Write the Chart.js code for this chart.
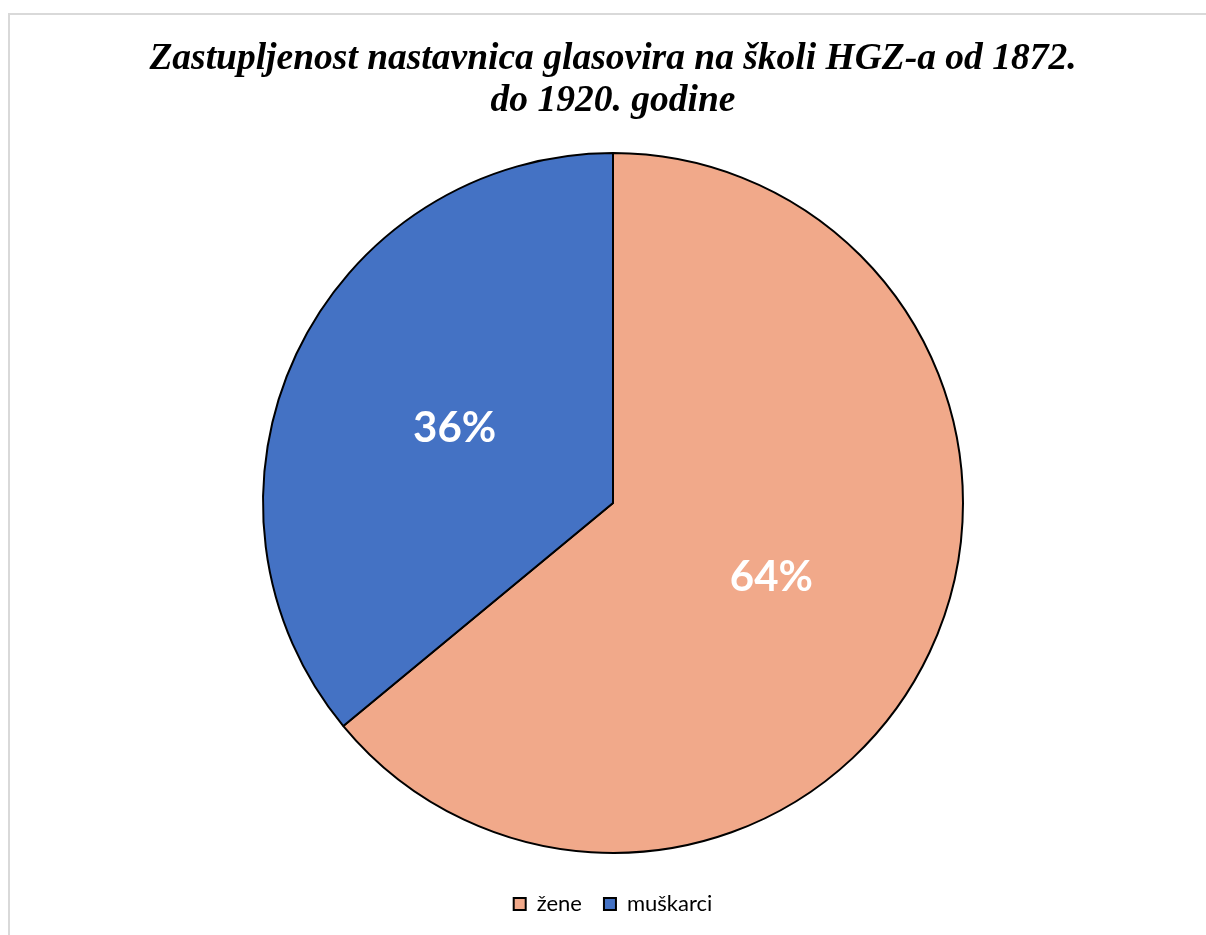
<!DOCTYPE html>
<html>
<head>
<meta charset="utf-8">
<script src="https://cdn.jsdelivr.net/npm/chart.js@4.4.0/dist/chart.umd.min.js"></script>
<style>
  html, body { margin: 0; padding: 0; background: #fff; overflow: hidden; }
  #wrap { position: relative; width: 1206px; height: 935px; }
  #frame {
    position: absolute; left: 8px; top: 13px; width: 1300px; height: 1000px;
    border-left: 2px solid #d9d9d9; border-top: 2px solid #d9d9d9;
    pointer-events: none;
  }
  canvas { position: absolute; left: 0; top: 0; }
</style>
</head>
<body>
<div id="wrap">
  <canvas id="pie" width="1206" height="935"></canvas>
  <div id="frame"></div>
</div>
<script>
// Podaci
const kategorije = ['žene', 'muškarci'];
const vrijednosti = [64, 36];
const boje = ['#f1a98a', '#4472c4'];
const naslov = ['Zastupljenost nastavnica glasovira na školi HGZ-a od 1872.', 'do 1920. godine'];

// Postotci unutar isječaka
const postotakPlugin = {
  id: 'postotak',
  afterDatasetsDraw(chart) {
    const { ctx } = chart;
    const meta = chart.getDatasetMeta(0);
    const data = chart.data.datasets[0].data;
    const total = data.reduce((a, b) => a + b, 0);
    ctx.save();
    ctx.fillStyle = '#ffffff';
    ctx.font = 'bold 42px Lato';
    ctx.textAlign = 'center';
    ctx.textBaseline = 'middle';
    meta.data.forEach((arc, i) => {
      const p = arc.getProps(['x', 'y', 'startAngle', 'endAngle', 'outerRadius'], true);
      const mid = (p.startAngle + p.endAngle) / 2;
      const r = p.outerRadius * 0.5;
      const txt = Math.round(data[i] / total * 100) + '%';
      ctx.fillText(txt, p.x + Math.cos(mid) * r, p.y + Math.sin(mid) * r);
    });
    ctx.restore();
  }
};

new Chart(document.getElementById('pie'), {
  type: 'pie',
  data: {
    labels: kategorije,
    datasets: [{
      data: vrijednosti,
      backgroundColor: boje,
      borderColor: '#000000',
      borderWidth: 2,
      radius: 350
    }]
  },
  options: {
    responsive: false,
    animation: false,
    layout: { padding: { left: 20, right: 0, top: 0, bottom: 10 } },
    plugins: {
      title: {
        display: true,
        text: naslov,
        color: '#000000',
        font: { family: '"Liberation Serif", "Times New Roman", serif', size: 37.5, style: 'italic', weight: 'bold', lineHeight: 1.12 },
        padding: { top: 38, bottom: 13 }
      },
      legend: {
        position: 'bottom',
        labels: {
          color: '#000000',
          font: { family: 'Lato', size: 22 },
          boxWidth: 12,
          boxHeight: 12,
          padding: 22
        }
      },
      tooltip: { enabled: false }
    }
  },
  plugins: [postotakPlugin]
});
</script>
</body>
</html>
